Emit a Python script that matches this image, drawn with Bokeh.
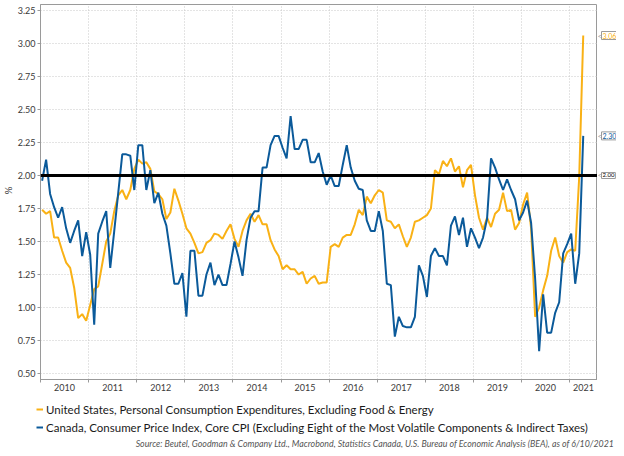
import math
import pandas as pd
from bokeh.plotting import figure
from bokeh.layouts import column, row
from bokeh.models import (FixedTicker, Range1d, Span, Label, Legend, LegendItem,
                          NumeralTickFormatter, ColumnDataSource)
from bokeh.embed import file_html
from bokeh.resources import INLINE

# Monthly, Jan 2010 .. Apr 2021
months = pd.date_range("2010-01-01", "2021-04-01", freq="MS")

us_core_pce = [
    1.74, 1.71, 1.73, 1.53, 1.53, 1.43, 1.34, 1.30, 1.15, 0.92, 0.95, 0.90,
    1.02, 1.14, 1.16, 1.33, 1.50, 1.56, 1.73, 1.85, 1.89, 1.82, 1.89, 2.05,
    2.12, 2.09, 2.10, 2.05, 1.88, 1.86, 1.82, 1.67, 1.72, 1.90, 1.81, 1.71,
    1.60, 1.56, 1.49, 1.41, 1.42, 1.49, 1.51, 1.56, 1.55, 1.52, 1.58, 1.63,
    1.52, 1.46, 1.58, 1.66, 1.71, 1.65, 1.70, 1.63, 1.63, 1.51, 1.44, 1.39,
    1.29, 1.32, 1.29, 1.29, 1.25, 1.27, 1.18, 1.22, 1.24, 1.18, 1.19, 1.19,
    1.46, 1.48, 1.46, 1.53, 1.55, 1.55, 1.63, 1.74, 1.70, 1.84, 1.79, 1.85,
    1.89, 1.87, 1.66, 1.65, 1.60, 1.63, 1.54, 1.46, 1.53, 1.65, 1.66, 1.68,
    1.70, 1.75, 2.04, 2.01, 2.11, 2.07, 2.13, 2.03, 2.07, 1.91, 2.04, 2.08,
    1.85, 1.68, 1.59, 1.68, 1.61, 1.71, 1.74, 1.87, 1.73, 1.74, 1.59, 1.64,
    1.78, 1.87, 1.60, 0.93, 1.00, 1.13, 1.24, 1.43, 1.53, 1.39, 1.34, 1.42,
    1.44, 1.43, 1.99, 3.06,
]

canada_cpix = [
    1.96, 2.12, 1.86, 1.76, 1.68, 1.76, 1.60, 1.49, 1.58, 1.66, 1.39, 1.57,
    1.40, 0.87, 1.56, 1.65, 1.73, 1.30, 1.58, 1.87, 2.16, 2.16, 2.15, 1.89,
    2.23, 2.23, 1.89, 2.04, 1.79, 1.87, 1.71, 1.62, 1.41, 1.18, 1.18, 1.26,
    0.93, 1.43, 1.43, 1.09, 1.09, 1.25, 1.34, 1.17, 1.25, 1.17, 1.17, 1.33,
    1.50, 1.38, 1.24, 1.51, 1.68, 1.73, 1.73, 2.06, 2.06, 2.23, 2.30, 2.30,
    2.21, 2.13, 2.45, 2.20, 2.20, 2.27, 2.27, 2.10, 2.10, 2.17, 2.03, 1.93,
    2.00, 1.92, 1.92, 2.08, 2.23, 2.06, 1.96, 1.90, 1.89, 1.66, 1.58, 1.58,
    1.73, 1.58, 1.18, 1.17, 0.78, 0.93, 0.86, 0.85, 0.85, 0.93, 1.32, 1.24,
    1.08, 1.39, 1.45, 1.39, 1.39, 1.32, 1.62, 1.69, 1.55, 1.68, 1.46, 1.60,
    1.53, 1.45, 1.53, 1.67, 2.13, 2.06, 1.97, 1.89, 1.97, 1.89, 1.82, 1.66,
    1.72, 1.81, 1.64, 1.22, 0.67, 1.10, 0.81, 0.81, 0.96, 1.04, 1.41, 1.48,
    1.56, 1.18, 1.41, 2.30,
]

year_labels = ["2010", "2011", "2012", "2013", "2014", "2015", "2016",
               "2017", "2018", "2019", "2020", "2021"]
y_ticks = [0.50, 0.75, 1.00, 1.25, 1.50, 1.75, 2.00, 2.25, 2.50, 2.75, 3.00, 3.25]
target = 2.00

us_label = "United States, Personal Consumption Expenditures, Excluding Food & Energy"
ca_label = ("Canada, Consumer Price Index, Core CPI (Excluding Eight of the Most "
            "Volatile Components & Indirect Taxes)")
source_text = ("Source: Beutel, Goodman & Company Ltd., Macrobond, Statistics Canada, "
               "U.S. Bureau of Economic Analysis (BEA), as of 6/10/2021")

ORANGE = "#F9B115"
BLUE = "#0B5A9A"
GRID = "#C8C8C8"
AXIS = "#9A9A9A"
TXT = "#3A3A3A"
FONT = "Lato"

TOTAL_W, TOTAL_H = 616, 448
YLAB_W = 14
TAG_W = 19
MAIN_W = TOTAL_W - YLAB_W - TAG_W
MAIN_H = 397
TOP_BORDER = 4
BOT_BORDER = 18
FOOT_H = TOTAL_H - MAIN_H

t = [m.year + (m.month - 1 + 0.4) / 12.0 for m in months]
src = ColumnDataSource(dict(t=t, us=us_core_pce, ca=canada_cpix))

x_end = 2021.58
y_range = Range1d(0.455, 3.295)


def strip(width):
    f = figure(width=width, height=MAIN_H, output_backend="svg",
               toolbar_location=None, x_range=Range1d(0, width), y_range=y_range,
               x_axis_location=None, y_axis_location=None,
               min_border_left=0, min_border_right=0,
               min_border_top=TOP_BORDER, min_border_bottom=BOT_BORDER)
    f.grid.visible = False
    f.outline_line_color = None
    f.background_fill_color = "white"
    f.border_fill_color = "white"
    return f


# ---- main chart ----
p = figure(width=MAIN_W, height=MAIN_H, output_backend="svg", toolbar_location=None,
           x_range=Range1d(2010.0, x_end), y_range=y_range,
           min_border_left=26, min_border_right=0, min_border_top=TOP_BORDER,
           min_border_bottom=BOT_BORDER)
p.background_fill_color = "white"
p.border_fill_color = "white"
p.outline_line_color = AXIS
p.outline_line_width = 1

r_us = p.line("t", "us", source=src, line_color=ORANGE, line_width=2)
r_ca = p.line("t", "ca", source=src, line_color=BLUE, line_width=2)

years = [int(y) for y in year_labels]
label_pos = [y + 0.5 for y in years[:-1]] + [(years[-1] + x_end) / 2.0]
xax = p.xaxis[0]
xax.ticker = FixedTicker(ticks=label_pos, minor_ticks=years)
xax.major_label_overrides = {pos: lab for pos, lab in zip(label_pos, year_labels)}
xax.major_tick_line_color = None
xax.major_tick_in = 0
xax.major_tick_out = 3
xax.minor_tick_line_color = AXIS
xax.minor_tick_in = 0
xax.minor_tick_out = 3
xax.axis_line_color = AXIS
xax.major_label_text_font = FONT
xax.major_label_text_font_size = "9px"
xax.major_label_text_color = TXT
xax.major_label_standoff = 1

yax = p.yaxis[0]
yax.ticker = FixedTicker(ticks=y_ticks)
yax.formatter = NumeralTickFormatter(format="0.00")
yax.axis_line_color = AXIS
yax.major_tick_line_color = AXIS
yax.major_tick_in = 0
yax.major_tick_out = 3
yax.minor_tick_line_color = None
yax.major_label_text_font = FONT
yax.major_label_text_font_size = "9px"
yax.major_label_text_color = TXT
yax.major_label_standoff = 2

p.xgrid.ticker = FixedTicker(ticks=years)
for g in (p.xgrid[0], p.ygrid[0]):
    g.grid_line_color = GRID
    g.grid_line_dash = "1 2"
    g.grid_line_width = 1

p.add_layout(Span(location=target, dimension="width", line_color="black",
                  line_width=3))

# ---- y-axis title strip ----
ylab = strip(YLAB_W)
ylab.add_layout(Label(x=YLAB_W / 2.0, y=1.887, text="%", angle=math.pi / 2,
                      text_align="center", text_baseline="middle",
                      text_font=FONT, text_font_size="10px", text_color=TXT))

# ---- right strip with last-value tags ----
tags = strip(TAG_W)


def tag(yv, text, color, size):
    tags.add_layout(Label(x=0, y=yv, x_offset=0, text="<", text_color=AXIS,
                          text_font=FONT, text_font_size="8px",
                          text_baseline="middle", text_align="left"))
    tags.add_layout(Label(x=0, y=yv, x_offset=4, text=text, text_color=color,
                          text_font=FONT, text_font_size=size,
                          text_baseline="middle", text_align="left",
                          border_line_color=AXIS, border_line_width=1,
                          background_fill_color="white", padding=1))


tag(us_core_pce[-1], f"{us_core_pce[-1]:.2f}", ORANGE, "7px")
tag(canada_cpix[-1], f"{canada_cpix[-1]:.2f}", BLUE, "7px")
tag(target, f"{target:.2f}", "black", "6px")

# ---- footer: legend and source note ----
foot = figure(width=TOTAL_W, height=FOOT_H, output_backend="svg",
              toolbar_location=None, x_range=Range1d(0, TOTAL_W),
              y_range=Range1d(0, FOOT_H), x_axis_location=None,
              y_axis_location=None, min_border=0)
foot.grid.visible = False
foot.outline_line_color = None
foot.background_fill_color = "white"
foot.border_fill_color = "white"
# same series, drawn outside this strip's view; they only supply legend swatches
l_us = foot.line("t", "us", source=src, line_color=ORANGE, line_width=2)
l_ca = foot.line("t", "ca", source=src, line_color=BLUE, line_width=2)

legend = Legend(items=[LegendItem(label=us_label, renderers=[l_us]),
                       LegendItem(label=ca_label, renderers=[l_ca])],
                location=(36, FOOT_H - 38), orientation="vertical",
                label_text_font=FONT, label_text_font_size="11.5px",
                label_text_color="#1A1A1A",
                glyph_width=7, glyph_height=16, label_height=16,
                label_standoff=3, spacing=2, padding=0, margin=0,
                border_line_color=None, background_fill_alpha=0)
foot.add_layout(legend)

foot.add_layout(Label(x=TOTAL_W - 2, y=5, text=source_text, text_align="right",
                      text_baseline="middle", text_font=FONT,
                      text_font_style="italic", text_font_size="8.8px",
                      text_color="#555555"))

layout = column(row(ylab, p, tags, spacing=0), foot, spacing=0)
open("out.html", "w").write(file_html(layout, INLINE))
